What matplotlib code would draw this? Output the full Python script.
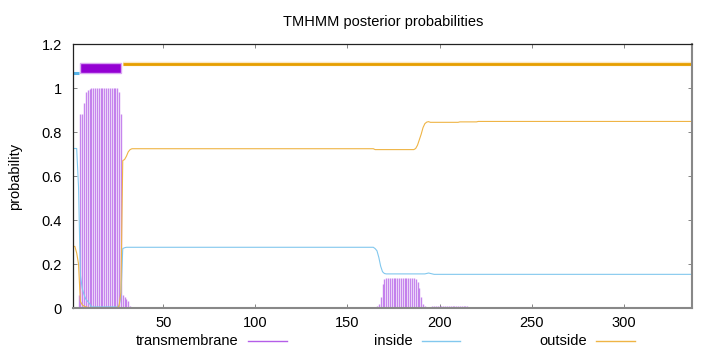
import matplotlib
matplotlib.use("Agg")
import matplotlib.pyplot as plt
from matplotlib.lines import Line2D
from matplotlib.patches import Rectangle
import numpy as np

plt.rcParams['font.family'] = ['Liberation Sans', 'DejaVu Sans']

# ---- data (per residue, 1..337) ----
residues = list(range(1, 338))

transmembrane = ([0.0, 0.0, 0.0] + [0.06] +
                 [0.88, 0.88, 0.93, 0.98, 0.99, 0.995] +
                 [1.0] * 15 +
                 [0.98, 0.88] +
                 [0.06, 0.05, 0.04, 0.03, 0.01] +
                 [0.0] * 43 +
                 [0.003] * 25 +
                 [0.0] * 64 +
                 [0.005, 0.01, 0.02, 0.05, 0.11, 0.13] +
                 [0.135] * 16 +
                 [0.13, 0.12, 0.09, 0.05, 0.02, 0.01] +
                 [0.003] * 3 +
                 [0.008] * 20 +
                 [0.0] * 122)

inside = ([0.725] * 3 +
          [0.55, 0.15, 0.09, 0.06, 0.04, 0.03, 0.02] +
          [0.005] * 15 +
          [0.01, 0.05] +
          [0.27, 0.274] +
          [0.276] * 135 +
          [0.27, 0.26, 0.23, 0.19, 0.165, 0.157] +
          [0.155] * 22 +
          [0.157, 0.159, 0.157, 0.155] +
          [0.153] * 141)

outside = ([0.28, 0.28, 0.25] +
           [0.2, 0.03, 0.015, 0.008, 0.005, 0.003, 0.002] +
           [0.002] * 15 +
           [0.01, 0.07] +
           [0.67, 0.675, 0.69, 0.71, 0.72] +
           [0.724] * 132 +
           [0.72] * 22 +
           [0.725, 0.74, 0.765, 0.79, 0.82, 0.838, 0.845, 0.847] +
           [0.844] * 16 +
           [0.846] * 10 +
           [0.848] * 117)

# predicted topology segments: (label, start, end)
topology = [("inside", 1, 4), ("TMhelix", 5, 27), ("outside", 28, 337)]

x_ticks = [50, 100, 150, 200, 250, 300]
y_ticks = [0, 0.2, 0.4, 0.6, 0.8, 1.0, 1.2]
y_tick_labels = ["0", "0.2", "0.4", "0.6", "0.8", "1", "1.2"]

# ---- colours ----
c_tm = '#b45ee8'
c_in = '#82c8ee'
c_out = '#efb445'

fig = plt.figure(figsize=(7.2, 3.52), dpi=100)
ax = fig.add_axes([73/720, 1-308/352, (692-73)/720, (308-44)/352])

ax.vlines(residues, 0, transmembrane, colors=c_tm, linewidth=1.0, alpha=0.75)
ax.plot(residues, inside, color=c_in, linewidth=0.8)
ax.plot(residues, outside, color=c_out, linewidth=0.8)

# topology bar
for name, s, e in topology:
    if name == "inside":
        ax.hlines(1.07, s, e, colors='#56B4E9', linewidth=2.2)
    elif name == "outside":
        ax.hlines(1.11, s, e, colors='#fbe8c2', linewidth=3.2)
        ax.hlines(1.11, s, e, colors='#E69F00', linewidth=2.0)
    else:
        ax.add_patch(Rectangle((s, 1.066), e - s, 0.047, facecolor='#9400D3',
                               edgecolor='#d9a6f2', linewidth=1.0))

ax.set_xlim(1, 337)
ax.set_ylim(0, 1.2)
ax.set_xticks(x_ticks)
ax.set_xticklabels([str(t) for t in x_ticks])
ax.set_yticks(y_ticks)
ax.set_yticklabels(y_tick_labels)
ax.tick_params(direction='in', length=3, width=0.6, color='#707070',
               top=True, right=True, labelsize=10.5)
ax.tick_params(axis='y', pad=8)
ax.tick_params(axis='x', pad=6)

for side in ['left', 'top']:
    ax.spines[side].set_color('#222222')
    ax.spines[side].set_linewidth(0.9)
for side in ['right', 'bottom']:
    ax.spines[side].set_color('#888888')
    ax.spines[side].set_linewidth(1.5)

fig.text(383/720, 1-22/352, "TMHMM posterior probabilities", ha='center', va='center', fontsize=10.5)
fig.text(15/720, 0.5, "probability", rotation=90, ha='center', va='center', fontsize=10.5)

# legend (gnuplot style: text then sample line)
legend_items = [("transmembrane", c_tm, 238, 248, 287),
                ("inside", c_in, 413, 422, 460),
                ("outside", c_out, 587, 596, 635)]
ly = 1 - 341/352
for label, col, tx, l0, l1 in legend_items:
    fig.text(tx/720, ly, label, ha='right', va='center', fontsize=10.5)
    fig.add_artist(Line2D([l0/720, l1/720], [ly, ly], color=col, linewidth=1.0,
                          transform=fig.transFigure))

fig.savefig("out.png", dpi=100)
